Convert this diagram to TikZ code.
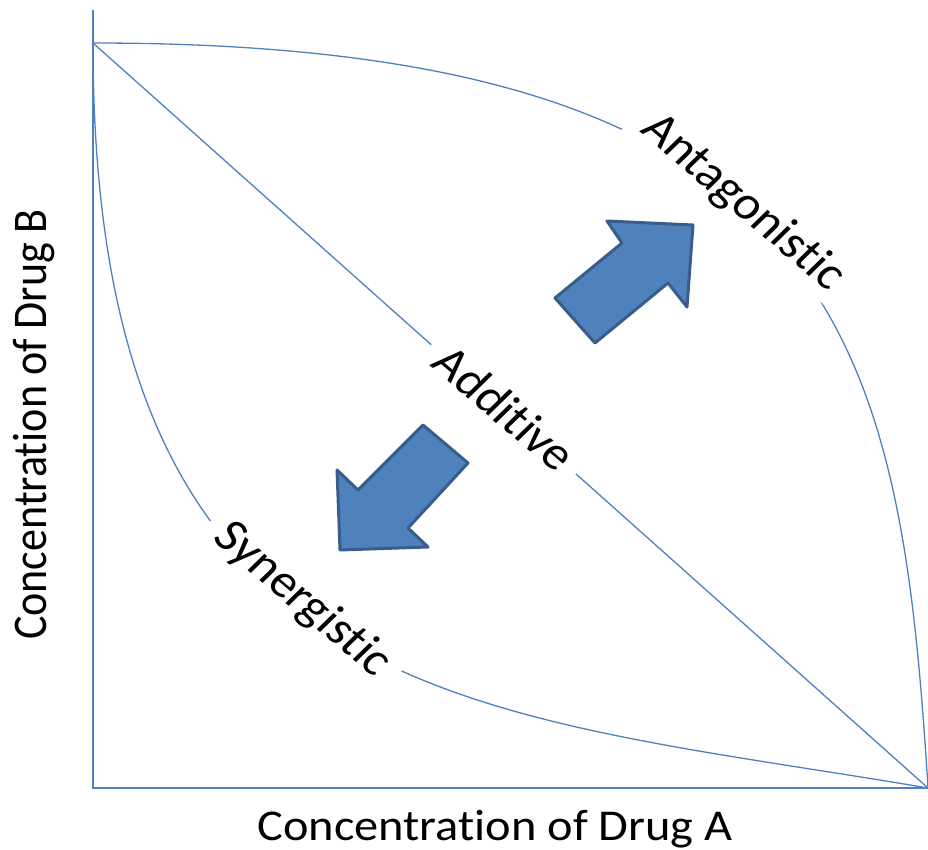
\documentclass[tikz,border=0pt]{standalone}
\usepackage{fontspec}
\setmainfont{Carlito}[Ligatures=NoCommon]
\definecolor{lineblue}{HTML}{4F81BD}
\definecolor{arrowfill}{HTML}{4F81BD}
\definecolor{arrowdraw}{HTML}{385D8A}
\begin{document}
\begin{tikzpicture}[x=1pt,y=-1pt,
  curveline/.style={draw=lineblue,line width=1.3pt},
  axisline/.style={draw=lineblue,line width=1.6pt},
  lab/.style={font=\fontsize{47}{52}\selectfont, xscale=1.1, rotate=-43, fill=white, inner xsep=13pt, inner ysep=4pt},
  axlab/.style={font=\fontsize{44}{50}\selectfont, xscale=1.1, anchor=base, inner sep=0pt},
  blockarrow/.style={fill=arrowfill,draw=arrowdraw,line width=3pt,line join=round}]
\useasboundingbox (0,0) rectangle (928,850);
\coordinate (YT) at (93,10);
\coordinate (O) at (93,788);
\coordinate (TL) at (93,43);
\coordinate (BR) at (928,788);
% axes
\draw[axisline] (YT) -- (O) -- (BR);
% additive
\draw[curveline] (TL) -- (BR);
% antagonistic
\draw[curveline] (TL) .. controls (844.5,43) and (900,341) .. (BR);
% synergistic
\draw[curveline] (TL) .. controls (93,713.5) and (468.75,710.1) .. (BR);
% labels
\node[lab] (ant) at (743,203) {Antagonistic};
\node[lab] (add) at (505,408) {Additive};
\node[lab] (syn) at (302,600) {Synergistic};
\node[axlab] (xl) at (495,840) {Concentration of Drug A};
\node[axlab,rotate=90] (yl) at (46,424.5) {Concentration of Drug B};
% arrows
\draw[blockarrow] (555,298) -- (622,243) -- (607,221) -- (693,225) -- (687,307) -- (668,283) -- (595,343) -- cycle;
\draw[blockarrow] (423,425) -- (468,463) -- (408,528) -- (428,547) -- (340,550) -- (337,470) -- (358,490) -- cycle;
\end{tikzpicture}
\end{document}
